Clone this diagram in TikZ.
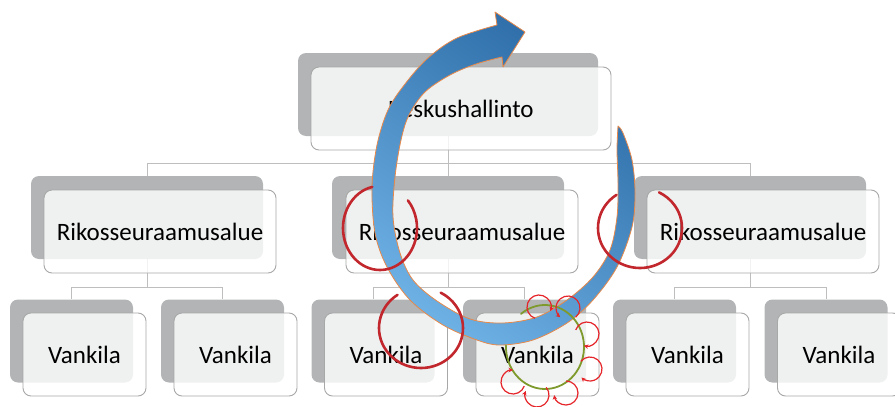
\documentclass[tikz,border=0pt]{standalone}
\usepackage{fontspec}
\setmainfont{Carlito}
\usetikzlibrary{arrows.meta,backgrounds}
\definecolor{backgray}{HTML}{B2B4B5}
\definecolor{framegray}{HTML}{A8A8A8}
\definecolor{linkgray}{HTML}{BEBEBE}
\definecolor{arrowdark}{HTML}{2C6BA6}
\definecolor{arrowlight}{HTML}{6DB0E4}
\definecolor{arrowedge}{HTML}{E8894A}
\definecolor{markred}{HTML}{C1272D}
\definecolor{curlred}{HTML}{E5252A}
\definecolor{ringgreen}{HTML}{7E9A2C}
\tikzset{
  back/.style={fill=backgray, rounded corners=8pt, inner sep=0pt},
  front/.style={fill=white, fill opacity=0.8, text opacity=1, draw=framegray,
    line width=0.9pt, rounded corners=8pt, inner sep=0pt,
    font=\fontsize{25}{30}\selectfont},
  topsize/.style={minimum width=300pt, minimum height=83pt},
  midsize/.style={minimum width=232pt, minimum height=83pt},
  lowsize/.style={minimum width=123pt, minimum height=83pt},
  link/.style={draw=linkgray, line width=1pt},
  ring/.style={draw=markred, line width=2.6pt, line cap=round},
  greenring/.style={draw=ringgreen, line width=1.8pt, line cap=round},
  curl/.style={draw=curlred, line width=1.2pt, -{Stealth[length=4.5pt,width=4.5pt]}},
}
\begin{document}
\begin{tikzpicture}[x=1pt, y=-1pt]
\useasboundingbox (0,0) rectangle (895,407);

% ---- organisation chart: shadow boxes ----
\node[back, topsize] (tb) at (448,94.5) {};
\node[back, midsize] (m1b) at (147,217.5) {};
\node[back, midsize] (m2b) at (448,217.5) {};
\node[back, midsize] (m3b) at (750,217.5) {};
\node[back, lowsize] (b1b) at (71.5,341) {};
\node[back, lowsize] (b2b) at (222.5,341) {};
\node[back, lowsize] (b3b) at (373,341) {};
\node[back, lowsize] (b4b) at (524.5,341) {};
\node[back, lowsize] (b5b) at (674.5,341) {};
\node[back, lowsize] (b6b) at (826,341) {};

% ---- connectors ----
\begin{scope}[on background layer]
\draw[link] (tb.south) -- ++(0,27) -| (m1b.north);
\draw[link] (tb.south) -- ++(0,27) -| (m3b.north);
\draw[link] (tb.south) -- (m2b.north);
\draw[link] (m1b.south) -- ++(0,28) -| (b1b.north);
\draw[link] (m1b.south) -- ++(0,28) -| (b2b.north);
\draw[link] (m2b.south) -- ++(0,28) -| (b3b.north);
\draw[link] (m2b.south) -- ++(0,28) -| (b4b.north);
\draw[link] (m3b.south) -- ++(0,28) -| (b5b.north);
\draw[link] (m3b.south) -- ++(0,28) -| (b6b.north);
\end{scope}

% ---- labelled boxes ----
\node[front, topsize] (tf) at (461,108.5) {Keskushallinto};
\node[front, midsize] (m1f) at (160,231.5) {Rikosseuraamusalue};
\node[front, midsize] (m2f) at (462,231.5) {Rikosseuraamusalue};
\node[front, midsize] (m3f) at (763,231.5) {Rikosseuraamusalue};
\node[front, lowsize] (b1f) at (84.5,354.5) {Vankila};
\node[front, lowsize] (b2f) at (235.5,354.5) {Vankila};
\node[front, lowsize] (b3f) at (386,354.5) {Vankila};
\node[front, lowsize] (b4f) at (537.5,354.5) {Vankila};
\node[front, lowsize] (b5f) at (687.5,354.5) {Vankila};
\node[front, lowsize] (b6f) at (839,354.5) {Vankila};

% ---- circular arrow ----
\shadedraw[top color=arrowdark, bottom color=arrowlight, shading angle=-35,
    draw=arrowedge, line width=0.8pt, line join=round]
  (497,25) -- plot[smooth, tension=0.55] coordinates {(497,25) (457,38) (428,58)
    (405,84) (388,110) (377,145) (372,187) (375,233) (387,267) (410,300)
    (443,325) (477,340) (500,345) (533,340) (567,323) (593,300) (617,267)
    (632,227) (635,193) (632,160) (623,133) (618,126)}
  -- plot[smooth, tension=0.55] coordinates {(618,126) (617,150) (618,183)
    (617,217) (610,250) (593,277) (567,300) (537,317) (503,323) (470,319)
    (437,301) (413,280) (400,253) (393,217) (395,177) (401,140) (409,115)
    (425,92) (450,75) (476,64) (502,57)}
  -- (503,67) -- (525,32) -- (495,12) -- cycle;

% ---- hand-drawn red rings ----
\draw[ring] (380,228) ++(102:37pt and 42pt)
  arc[start angle=102, end angle=401, x radius=37pt, y radius=42pt];
\draw[ring] (640,228) ++(124:42pt and 40pt)
  arc[start angle=124, end angle=423, x radius=42pt, y radius=40pt];
\draw[ring] (421,328) ++(124:42pt and 40pt)
  arc[start angle=124, end angle=422, x radius=42pt, y radius=40pt];

% ---- green ring with small curls ----
\draw[greenring] (545,347) ++(178:39pt and 42pt)
  arc[start angle=178, end angle=488, x radius=39pt, y radius=42pt];
\draw[curl] (539,307) ++(250:12pt) arc[start angle=250, end angle=-20, radius=12pt];
\draw[curl] (568,308) ++(-50:12pt) arc[start angle=-50, end angle=230, radius=12pt];
\draw[curl] (587,334) ++(160:12pt) arc[start angle=160, end angle=-105, radius=12pt];
\draw[curl] (590,369) ++(140:12pt) arc[start angle=140, end angle=-135, radius=12pt];
\draw[curl] (566,393) ++(90:12pt) arc[start angle=90, end angle=-170, radius=12pt];
\draw[curl] (537,395) ++(40:12pt) arc[start angle=40, end angle=-200, radius=12pt];
\draw[curl] (513,382) ++(-20:12pt) arc[start angle=-20, end angle=-270, radius=12pt];
\end{tikzpicture}
\end{document}
